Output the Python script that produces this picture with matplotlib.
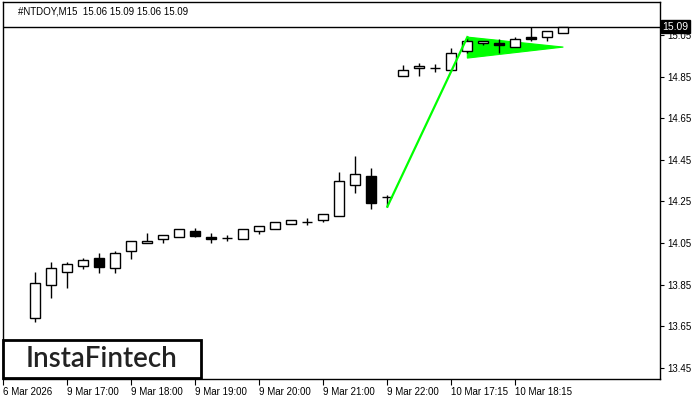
import matplotlib
matplotlib.use("Agg")
import matplotlib.pyplot as plt
from matplotlib.patches import Rectangle, Polygon

# ---- data ----
opens  = [13.689, 13.847, 13.910, 13.940, 13.977, 13.929, 14.011, 14.049, 14.068, 14.078,
          14.108, 14.079, 14.073, 14.068, 14.107, 14.116, 14.140, 14.150, 14.160, 14.179,
          14.328, 14.371, 14.270, 14.852, 14.890, 14.890, 14.880, 14.972, 15.010, 15.010,
          14.991, 15.039, 15.039, 15.060]
highs  = [13.910, 13.958, 13.958, 13.978, 14.001, 14.011, 14.059, 14.100, 14.087, 14.116,
          14.121, 14.097, 14.087, 14.116, 14.131, 14.150, 14.160, 14.169, 14.188, 14.392,
          14.469, 14.409, 14.281, 14.904, 14.914, 14.909, 14.986, 15.034, 15.020, 15.029,
          15.039, 15.090, 15.068, 15.090]
lows   = [13.670, 13.788, 13.836, 13.927, 13.908, 13.908, 13.975, 14.049, 14.049, 14.078,
          14.078, 14.049, 14.059, 14.068, 14.095, 14.116, 14.140, 14.139, 14.150, 14.179,
          14.289, 14.215, 14.225, 14.852, 14.852, 14.871, 14.880, 14.962, 15.000, 14.962,
          14.991, 15.020, 15.020, 15.060]
closes = [13.857, 13.929, 13.950, 13.967, 13.937, 14.001, 14.059, 14.059, 14.087, 14.116,
          14.085, 14.068, 14.073, 14.116, 14.131, 14.150, 14.160, 14.150, 14.188, 14.347,
          14.381, 14.241, 14.270, 14.880, 14.900, 14.890, 14.962, 15.020, 15.020, 15.000,
          15.029, 15.029, 15.068, 15.090]

xtick_idx = [-2, 2, 6, 10, 14, 18, 22, 26, 30]
xtick_labels = ["6 Mar 2026", "9 Mar 17:00", "9 Mar 18:00", "9 Mar 19:00", "9 Mar 20:00",
                "9 Mar 21:00", "9 Mar 22:00", "10 Mar 17:15", "10 Mar 18:15"]
yticks = [13.45, 13.65, 13.85, 14.05, 14.25, 14.45, 14.65, 14.85, 15.05]
last_price = 15.09

# flagpole and pennant (index, price)
pole_x = [22, 27]
pole_y = [14.225, 15.040]
pennant_x = [27, 27, 33]
pennant_y = [15.040, 14.939, 14.992]

title = "#NTDOY,M15  15.06 15.09 15.06 15.09"

FONT = "Liberation Sans"

# ---- figure ----
fig = plt.figure(figsize=(7, 4), dpi=100)
ax = fig.add_axes([3/700, 21/400, 657/700, 377/400])
ax.set_xlim(-2.02, 39.04)
ax.set_ylim(13.397, 15.2086)

bw = 0.62
for i, (o, h, l, c) in enumerate(zip(opens, highs, lows, closes)):
    ax.plot([i, i], [l, h], color="black", lw=1.0, zorder=2, solid_capstyle="butt")
    bottom = min(o, c)
    height = abs(c - o)
    face = "white" if c >= o else "black"
    ax.add_patch(Rectangle((i - bw/2, bottom), bw, height, facecolor=face,
                           edgecolor="black", lw=1.0, zorder=3))

ax.plot(pole_x, pole_y, color="#00ff00", lw=1.6, zorder=4)
ax.add_patch(Polygon(list(zip(pennant_x, pennant_y)), closed=True,
                     facecolor="#00ff00", edgecolor="#00ff00", lw=0.8, zorder=1))

ax.axhline(last_price, color="black", lw=1.0, zorder=1)

ax.yaxis.tick_right()
ax.set_yticks(yticks)
ax.set_yticklabels([f"{v:.2f}" for v in yticks], family=FONT)
ax.tick_params(axis="y", length=3, width=0.8, pad=2, labelsize=7, colors="black")

ax.set_xticks(xtick_idx)
ax.set_xticklabels(xtick_labels, family=FONT)
ax.tick_params(axis="x", length=4, width=0.8, pad=2, labelsize=7, colors="black")
for lab in ax.get_xticklabels():
    lab.set_horizontalalignment("left")

for sp in ax.spines.values():
    sp.set_color("black")
    sp.set_linewidth(1.0)

ax.text(1.004, last_price, f"{last_price:.2f}", transform=ax.get_yaxis_transform(),
        ha="left", va="center", fontsize=7.5, family=FONT, color="white",
        bbox=dict(boxstyle="square,pad=0.15", facecolor="black", edgecolor="black"), zorder=10,
        clip_on=False)

fig.text(18/700, 1 - 11/400, title, ha="left", va="center", fontsize=7, family=FONT,
         color="black")

# logo
fig.patches.append(Rectangle((3/700, 22/400), 198/700, 38/400, transform=fig.transFigure,
                             facecolor="white", edgecolor="black", lw=2, zorder=5))
fig.text(102/700, 41/400, "InstaFintech", ha="center", va="center", fontsize=20,
         family="Lato", weight="semibold", color="#222222", zorder=6)

fig.savefig("out.png", dpi=100)
